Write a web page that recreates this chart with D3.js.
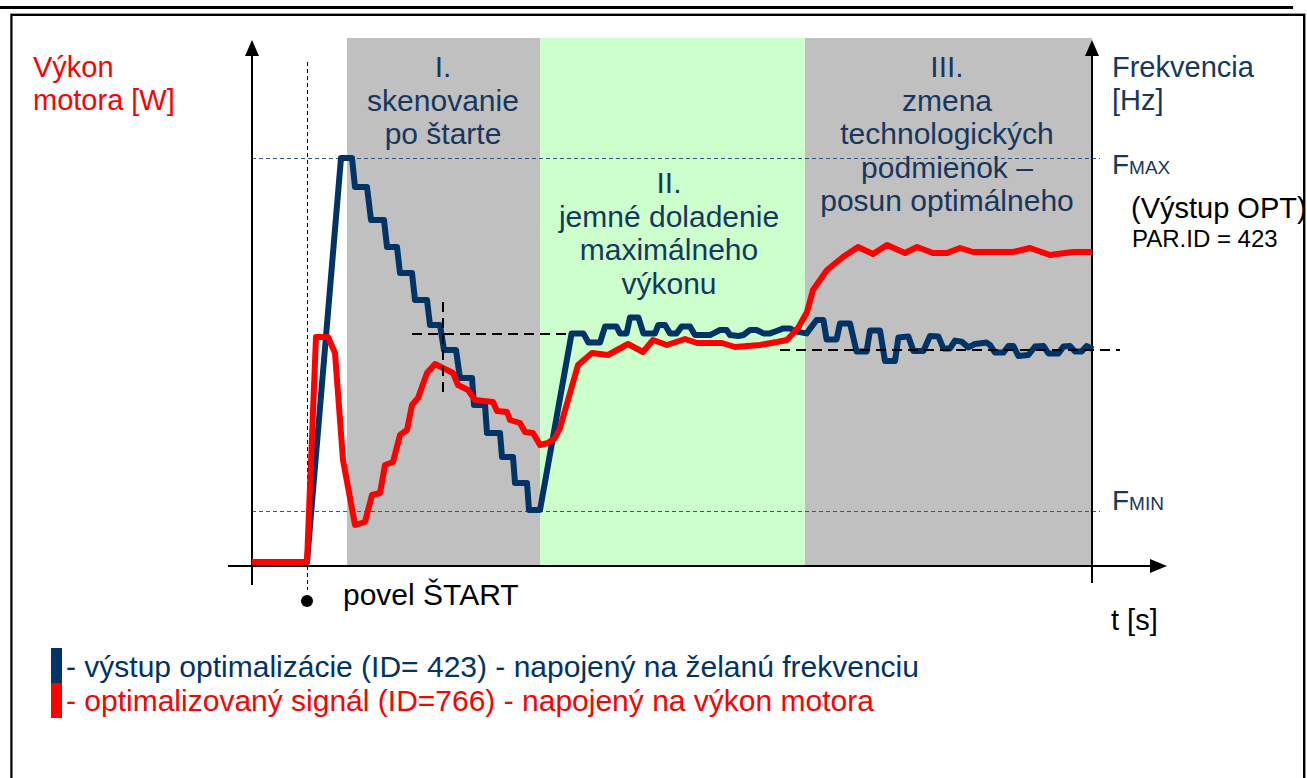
<!DOCTYPE html>
<html>
<head>
<meta charset="utf-8">
<script src="https://cdn.jsdelivr.net/npm/d3@7"></script>
<style>
  html, body { margin: 0; padding: 0; background: #ffffff; }
  svg { display: block; font-family: "Liberation Sans", Arial, Helvetica, sans-serif; }
</style>
</head>
<body>
<script>
// Time axis in arbitrary units (0 .. 420), value axis in arbitrary units (0 .. 263)
const timeDomain = [0, 420];
const valueDomain = [0, 263];

// Phases of the optimisation run: [start, end, fill]
const phaseStart = [47.5, 144, 276.5];
const phaseEnd = [144, 276.5, 420];
const phaseFill = ["#c0c0c0", "#ccffcc", "#c0c0c0"];

// Frequency limits
const fMax = 204;
const fMin = 27.5;
const startTime = 27.5;

// Optimiser output (ID 423) – desired frequency
const outTime = [0, 27.5, 44.5, 50, 51.5, 57.5, 59.5, 66, 67.5, 72.5, 74, 80, 81.5, 87.5, 89, 94, 96, 102, 104, 110,
  111, 116.5, 117.5, 124, 125, 130.5, 131.5, 137.5, 138.5, 144, 159.8, 165.7, 168.2, 174, 176.5, 182.3, 184, 187.3,
  189, 193.2, 195.7, 201.5, 203.2, 206.5, 209, 212.3, 214.8, 219, 221.5, 229, 230.7, 234, 237.3, 239, 243.2, 245.7,
  249, 252.3, 255.7, 259, 262.3, 265.7, 269, 272.3, 277.3, 282.3, 285.7, 287.3, 292.3, 294, 299, 302.3, 307.3, 309,
  314, 316.5, 321.5, 323.2, 328.2, 330.7, 335.7, 339, 343.2, 345.7, 349, 351.5, 354.8, 358.2, 361.5, 367.3, 369,
  371.5, 375.7, 378.2, 380.7, 383.2, 388.2, 391.5, 395.7, 398.2, 403.2, 405.7, 409, 411.5, 414.8, 417.3, 420.5];
const outValue = [2, 2, 204, 204, 189.5, 189.5, 173, 173, 159.5, 159.5, 146.5, 146.5, 133, 133, 120.5, 120.5, 108, 108, 94, 94,
  80.5, 80.5, 66.5, 66.5, 54.5, 54.5, 41.5, 41.5, 28, 28, 116.3, 116.3, 111.7, 111.7, 119.7, 119.7, 116.3, 116.3,
  124.3, 124.3, 116.3, 116.3, 120.5, 120.5, 116.3, 116.3, 119.7, 119.7, 115.5, 115.5, 116.3, 118, 118, 115.5, 115, 115.5,
  118, 118, 116.3, 116.3, 117.5, 118.8, 118.8, 117.2, 116.3, 123, 123, 113.3, 113.3, 121.3, 121.3, 107.2, 107.2, 117.7,
  117.7, 102.5, 102.5, 114.3, 114.7, 107.5, 107.5, 115, 114.7, 108.8, 108.8, 112.7, 112.2, 109.3, 111, 111.7, 110.5,
  106.7, 106.7, 110, 110, 105, 105.5, 109.7, 110, 106.3, 106.3, 109.7, 110, 107.2, 107.2, 110, 108.3];

// Optimised signal (ID 766) – motor power
const sigTime = [0, 27.5, 32, 38, 41.5, 45.5, 51.5, 56.5, 60, 64, 66.5, 70.5, 74, 77.5, 80, 83, 87.5, 91.5, 95.5, 100.5,
  103, 108, 111.5, 120.5, 122.5, 127.5, 129, 134, 136.5, 140.5, 144, 148, 151.5, 154, 158, 163, 170, 178, 188, 195.5,
  200.5, 207.5, 216.5, 222.5, 235, 241.5, 254, 262.5, 267.5, 273, 277.5, 280.5, 287.5, 295.5, 303, 310.5, 317.5,
  326.5, 332.5, 340.5, 347.5, 354, 360.5, 380.5, 389, 399, 410.5, 420];
const sigValue = [2, 2, 114.5, 114.5, 106.5, 53, 20.5, 22, 35.5, 36.5, 50.5, 52, 65.5, 68, 80.5, 84, 96.5, 101, 99, 96.5,
  90.5, 88, 83, 82, 77.5, 77, 73, 71.5, 67, 66.5, 60.5, 61.5, 64, 69, 83, 100.5, 106.5, 105.5, 111, 107,
  113, 110.5, 113.5, 111.5, 111.5, 109.5, 110.5, 112, 113, 119, 127, 138, 148, 154.5, 159.5, 156, 160.5,
  156.5, 159.5, 156.5, 156.5, 159, 157, 157, 159, 155.5, 157, 157];

// Guide lines: [t0, v0, t1, v1]
const guides = [
  [80, 116, 160, 116],
  [264, 108, 434, 108],
  [95.5, 132, 95.5, 84]
];

const phaseLabels = [
  { t: 95.5, v: 244.5, lines: ["I.", "skenovanie", "po štarte"] },
  { t: 208.5, v: 186.5, lines: ["II.", "jemné doladenie", "maximálneho", "výkonu"] },
  { t: 347.5, v: 244.5, lines: ["III.", "zmena", "technologických", "podmienok –", "posun optimálneho"] }
];

const legendItems = [
  { color: "#003366", text: "- výstup optimalizácie (ID= 423) - napojený na želanú frekvenciu" },
  { color: "#ff0000", text: "- optimalizovaný signál (ID=766) - napojený na výkon motora" }
];

const W = 1307, H = 778;
const navy = "#003366";
const navyText = "#17375e";

const x = d3.scaleLinear().domain(timeDomain).range([252, 1092]);
const y = d3.scaleLinear().domain(valueDomain).range([566, 40]);

const svg = d3.select("body").append("svg").attr("width", W).attr("height", H);

// page header rule and frame
svg.append("rect").attr("x", 0).attr("y", 6).attr("width", 1293).attr("height", 3).attr("fill", "#000");
svg.append("path").attr("d", "M10.5,790V13.5H1305.5V790").attr("fill", "none").attr("stroke", "#9a9a9a").attr("stroke-width", 1);
svg.append("path").attr("d", "M11.5,790V15H1304V790").attr("fill", "none").attr("stroke", "#000").attr("stroke-width", 2);

// phase backgrounds
svg.append("g").selectAll("rect").data(phaseStart).join("rect")
  .attr("x", (d) => x(d))
  .attr("y", y(264))
  .attr("width", (d, i) => x(phaseEnd[i]) - x(d))
  .attr("height", y(0) - y(264))
  .attr("fill", (d, i) => phaseFill[i]);

// frequency limits
[fMax, fMin].forEach((f) => {
  svg.append("line")
    .attr("x1", x(0)).attr("x2", x(424))
    .attr("y1", y(f) + 0.5).attr("y2", y(f) + 0.5)
    .attr("stroke", "#2e5a88").attr("stroke-width", 1).attr("stroke-dasharray", "4,3");
});

// start instant
svg.append("line")
  .attr("x1", x(startTime) + 0.5).attr("x2", x(startTime) + 0.5)
  .attr("y1", y(252)).attr("y2", y(-12))
  .attr("stroke", "#000").attr("stroke-width", 1).attr("stroke-dasharray", "4,3");
svg.append("circle").attr("cx", x(startTime)).attr("cy", y(-17.5)).attr("r", 6).attr("fill", "#000");

// axes with arrowheads
const axisG = svg.append("g").attr("stroke", "#000").attr("stroke-width", 2);
axisG.append("line").attr("x1", x(0)).attr("x2", x(0)).attr("y1", y(-9.5)).attr("y2", y(256));
axisG.append("line").attr("x1", x(420)).attr("x2", x(420)).attr("y1", y(-8.5)).attr("y2", y(256));
axisG.append("line").attr("x1", x(-12)).attr("x2", x(450)).attr("y1", y(0)).attr("y2", y(0));

function arrowUp(cx, tipY) {
  return `M${cx},${tipY}L${cx - 7},${tipY + 16}L${cx + 7},${tipY + 16}Z`;
}
svg.append("path").attr("d", arrowUp(x(0), y(263))).attr("fill", "#000");
svg.append("path").attr("d", arrowUp(x(420), y(263))).attr("fill", "#000");
svg.append("path")
  .attr("d", `M${x(457.5)},${y(0)}L${x(457.5) - 17},${y(0) - 7}L${x(457.5) - 17},${y(0) + 7}Z`)
  .attr("fill", "#000");

// signals
const line = d3.line().x((d) => x(d[0])).y((d) => y(d[1]));
svg.append("path")
  .datum(outTime.map((t, i) => [t, outValue[i]]))
  .attr("d", line)
  .attr("fill", "none").attr("stroke", navy).attr("stroke-width", 6)
  .attr("stroke-linejoin", "round");
svg.append("path")
  .datum(sigTime.map((t, i) => [t, sigValue[i]]))
  .attr("d", line)
  .attr("fill", "none").attr("stroke", "#ff0000").attr("stroke-width", 6)
  .attr("stroke-linejoin", "round");

// optimum guides
svg.append("g").selectAll("line").data(guides).join("line")
  .attr("x1", (d) => x(d[0])).attr("y1", (d) => y(d[1]))
  .attr("x2", (d) => x(d[2])).attr("y2", (d) => y(d[3]))
  .attr("stroke", "#000").attr("stroke-width", 2).attr("stroke-dasharray", "10,6");

// texts
const txt = svg.append("g").attr("font-size", 29);

function multiline(g, px, py, lines, anchor, color, step, size) {
  const t = g.append("text").attr("text-anchor", anchor).attr("fill", color).attr("font-size", size);
  lines.forEach((s, i) => t.append("tspan").attr("x", px).attr("y", py + i * step).text(s));
}

multiline(txt, 33, 77, ["Výkon", "motora [W]"], "start", "#ff0000", 33, 29);
multiline(txt, 1112, 77, ["Frekvencia", "[Hz]"], "start", navyText, 33, 29);

phaseLabels.forEach((p) => multiline(txt, x(p.t), y(p.v), p.lines, "middle", navyText, 33.5, 30));

const fmaxT = txt.append("text").attr("x", 1112).attr("y", 174).attr("fill", navyText).attr("font-size", 28);
fmaxT.append("tspan").text("F");
fmaxT.append("tspan").attr("font-size", 19).text("MAX");
const fminT = txt.append("text").attr("x", 1112).attr("y", 510).attr("fill", navyText).attr("font-size", 28);
fminT.append("tspan").text("F");
fminT.append("tspan").attr("font-size", 19).text("MIN");

txt.append("text").attr("x", 1131).attr("y", 218).attr("fill", "#000").text("(Výstup OPT)");
txt.append("text").attr("x", 1132).attr("y", 247).attr("fill", "#000").attr("font-size", 24).text("PAR.ID = 423");

txt.append("text").attr("x", 343).attr("y", 605).attr("fill", "#000").attr("font-size", 30).text("povel ŠTART");
txt.append("text").attr("x", 1111).attr("y", 630).attr("fill", "#000").attr("font-size", 29).text("t [s]");

// legend
legendItems.forEach((item, i) => {
  svg.append("rect").attr("x", 51).attr("y", 648 + i * 35).attr("width", 11).attr("height", 35).attr("fill", item.color);
  txt.append("text").attr("x", 66).attr("y", 677 + i * 34).attr("fill", item.color).attr("font-size", 30).text(item.text);
});
</script>
</body>
</html>
